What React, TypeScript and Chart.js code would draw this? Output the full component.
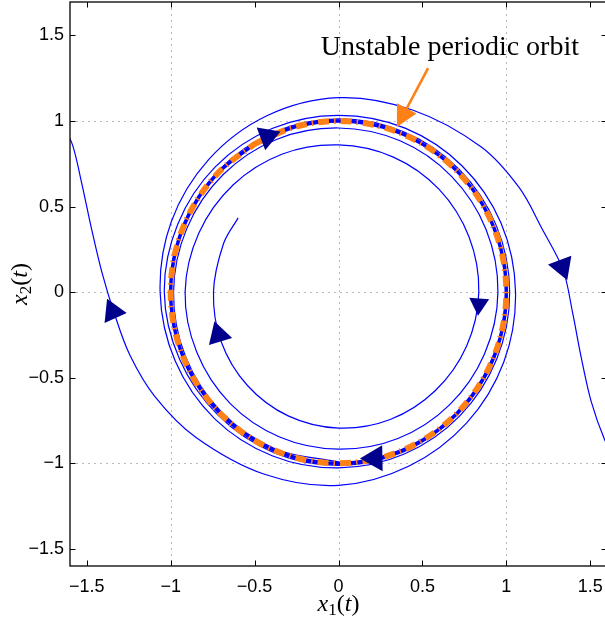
import React, { useEffect, useRef } from 'react';
import { Chart, registerables } from 'chart.js';

Chart.register(...registerables);

// ---- axis / tick data ----
const X_TICKS = [-1.5, -1, -0.5, 0, 0.5, 1, 1.5];
const Y_TICKS = [-1.5, -1, -0.5, 0, 0.5, 1, 1.5];
const GRID_VALUES = [-1, 0, 1];
const X_MIN = -1.6;
const X_MAX = 1.6;
const Y_MIN = -1.6;
const Y_MAX = 1.695;

// ---- unstable periodic orbit ----
const orbitX = [-0.5, -0.259, 0, 0.259, 0.5, 0.707, 0.866, 0.966, 1, 0.966, 0.866, 0.707, 0.5, 0.259, 0, -0.259, -0.5, -0.707, -0.866, -0.966, -1, -0.966, -0.866, -0.707, -0.5];
const orbitY = [0.866, 0.966, 1, 0.966, 0.866, 0.707, 0.5, 0.259, 0, -0.259, -0.5, -0.707, -0.866, -0.966, -1, -0.966, -0.866, -0.707, -0.5, -0.259, 0, 0.259, 0.5, 0.707, 0.866];

// ---- outer trajectory escaping to the right ----
const outerAX = [-1.006, -0.93, -0.713, -0.387, 0, 0.388, 0.718, 0.94, 1.02, 0.943, 0.723, 0.392, 0, -0.396, -0.739, -0.973, -1.063, -0.996, -0.774, -0.427, 0, 0.441, 0.849, 1.077, 1.213, 1.338, 1.395, 1.446, 1.506, 1.586, 1.64];
const outerAY = [0, 0.386, 0.713, 0.933, 1.012, 0.936, 0.718, 0.39, 0, -0.391, -0.723, -0.946, -1.027, -0.956, -0.739, -0.403, 0, 0.413, 0.774, 1.03, 1.136, 1.064, 0.849, 0.61, 0.37, 0.13, -0.12, -0.38, -0.64, -0.862, -0.95];

// ---- outer trajectory escaping to the left ----
const outerBX = [1.006, 0.93, 0.713, 0.387, 0, -0.388, -0.718, -0.947, -1.038, -0.958, -0.733, -0.396, 0, 0.397, 0.737, 0.969, 1.055, 0.985, 0.764, 0.421, 0, -0.441, -0.849, -1.094, -1.242, -1.334, -1.411, -1.474, -1.531, -1.585, -1.64];
const outerBY = [0, -0.386, -0.713, -0.933, -1.012, -0.936, -0.718, -0.392, 0, 0.397, 0.733, 0.956, 1.033, 0.958, 0.737, 0.402, 0, -0.408, -0.764, -1.016, -1.129, -1.064, -0.849, -0.61, -0.37, -0.13, 0.12, 0.38, 0.64, 0.86, 0.97];

// ---- inner trajectory spiralling inwards ----
const innerX = [0, -0.379, -0.699, -0.911, -0.983, -0.903, -0.687, -0.37, 0, 0.367, 0.675, 0.88, 0.95, 0.87, 0.66, 0.354, 0, -0.351, -0.648, -0.845, -0.914, -0.832, -0.627, -0.334, 0, 0.327, 0.6, 0.778, 0.836, 0.763, 0.576, 0.308, 0, -0.3, -0.544, -0.699, -0.745, -0.685, -0.598];
const innerY = [-0.992, -0.915, -0.699, -0.378, 0, 0.374, 0.687, 0.892, 0.959, 0.884, 0.675, 0.365, 0, -0.361, -0.66, -0.855, -0.917, -0.846, -0.648, -0.35, 0, 0.345, 0.627, 0.807, 0.86, 0.789, 0.6, 0.322, 0, -0.316, -0.576, -0.744, -0.794, -0.723, -0.544, -0.29, 0, 0.284, 0.434];

// ---- direction arrows (centre, rotation in degrees) ----
const arrowX = [-0.423, 0.836, 0.217, -0.715, 1.333, -1.345];
const arrowY = [0.91, -0.071, -0.971, -0.249, 0.148, -0.114];
const arrowRot = [69.5, 184, 269, 343, 159.5, 336];
const arrowSize = [14, 11.5, 15, 14, 14.4, 14];

// ---- annotation ----
const ANNOTATION_TEXT = 'Unstable periodic orbit';
const ANNOTATION_POS = [0.664, 1.385];
const ANNOTATION_FROM = [0.534, 1.309];
const ANNOTATION_TO = [0.348, 0.965];

const BLUE = 'rgb(0,0,255)';
const NAVY = 'rgb(0,0,140)';
const ORANGE = 'rgb(255,128,20)';
const GRID_COLOR = 'rgb(185,185,185)';
const SERIF = '"Liberation Serif", "DejaVu Serif", serif';
const SANS = '"Liberation Sans", Arial, Helvetica, sans-serif';

const pts = (xs: number[], ys: number[]) => xs.map((x, i) => ({ x, y: ys[i] }));

const fmt = (v: number) => (v < 0 ? '\u2212' + String(Math.abs(v)) : String(v));

type Part = { t: string; font: string; dy?: number };

function drawParts(ctx: CanvasRenderingContext2D, parts: Part[], cx: number, baseline: number) {
  let total = 0;
  const widths = parts.map((p) => {
    ctx.font = p.font;
    const w = ctx.measureText(p.t).width;
    total += w;
    return w;
  });
  let x = cx - total / 2;
  ctx.textAlign = 'left';
  ctx.textBaseline = 'alphabetic';
  parts.forEach((p, i) => {
    ctx.font = p.font;
    ctx.fillText(p.t, x, baseline + (p.dy || 0));
    x += widths[i];
  });
}

const decorPlugin = {
  id: 'decor',
  beforeDatasetsDraw(chart: any) {
    const { ctx, chartArea: a, scales } = chart;
    const xs = scales.x;
    const ys = scales.y;
    ctx.save();
    ctx.strokeStyle = GRID_COLOR;
    ctx.lineWidth = 1;
    ctx.setLineDash([2, 4]);
    for (const v of GRID_VALUES) {
      const px = Math.round(xs.getPixelForValue(v)) + 0.5;
      ctx.beginPath();
      ctx.moveTo(px, a.top);
      ctx.lineTo(px, a.bottom);
      ctx.stroke();
      const py = Math.round(ys.getPixelForValue(v)) + 0.5;
      ctx.beginPath();
      ctx.moveTo(a.left, py);
      ctx.lineTo(a.right, py);
      ctx.stroke();
    }
    ctx.restore();
  },
  afterDatasetsDraw(chart: any) {
    const { ctx, chartArea: a, scales } = chart;
    const xs = scales.x;
    const ys = scales.y;
    ctx.save();
    // frame
    ctx.strokeStyle = '#000';
    ctx.lineWidth = 1.3;
    ctx.setLineDash([]);
    ctx.strokeRect(a.left, a.top, a.right - a.left, a.bottom - a.top);
    // inward ticks on all four sides
    const TL = 5.5;
    ctx.lineWidth = 1;
    for (const v of X_TICKS) {
      const px = Math.round(xs.getPixelForValue(v)) + 0.5;
      ctx.beginPath();
      ctx.moveTo(px, a.bottom);
      ctx.lineTo(px, a.bottom - TL);
      ctx.moveTo(px, a.top);
      ctx.lineTo(px, a.top + TL);
      ctx.stroke();
    }
    for (const v of Y_TICKS) {
      const py = Math.round(ys.getPixelForValue(v)) + 0.5;
      ctx.beginPath();
      ctx.moveTo(a.left, py);
      ctx.lineTo(a.left + TL, py);
      ctx.moveTo(a.right, py);
      ctx.lineTo(a.right - TL, py);
      ctx.stroke();
    }
    // annotation arrow
    const fx = xs.getPixelForValue(ANNOTATION_FROM[0]);
    const fy = ys.getPixelForValue(ANNOTATION_FROM[1]);
    const tx = xs.getPixelForValue(ANNOTATION_TO[0]);
    const ty = ys.getPixelForValue(ANNOTATION_TO[1]);
    const len = Math.hypot(tx - fx, ty - fy);
    const ux = (tx - fx) / len;
    const uy = (ty - fy) / len;
    const HL = 21;
    const HW = 11;
    ctx.strokeStyle = ORANGE;
    ctx.fillStyle = ORANGE;
    ctx.lineWidth = 2.6;
    ctx.beginPath();
    ctx.moveTo(fx, fy);
    ctx.lineTo(tx - ux * HL * 0.9, ty - uy * HL * 0.9);
    ctx.stroke();
    ctx.beginPath();
    ctx.moveTo(tx, ty);
    ctx.lineTo(tx - ux * HL - uy * HW, ty - uy * HL + ux * HW);
    ctx.lineTo(tx - ux * HL + uy * HW, ty - uy * HL - ux * HW);
    ctx.closePath();
    ctx.fill();
    // annotation text
    ctx.fillStyle = '#000';
    ctx.font = `28px ${SERIF}`;
    ctx.textAlign = 'center';
    ctx.textBaseline = 'alphabetic';
    ctx.fillText(ANNOTATION_TEXT, xs.getPixelForValue(ANNOTATION_POS[0]), ys.getPixelForValue(ANNOTATION_POS[1]));
    ctx.restore();
  },
  afterDraw(chart: any) {
    const { ctx, chartArea: a } = chart;
    ctx.save();
    ctx.fillStyle = '#000';
    const big = `24px ${SERIF}`;
    const bigI = `italic 24px ${SERIF}`;
    const sub = `17px ${SERIF}`;
    drawParts(
      ctx,
      [
        { t: 'x', font: bigI },
        { t: '1', font: sub, dy: 4 },
        { t: '(', font: big },
        { t: 't', font: bigI },
        { t: ')', font: big },
      ],
      (a.left + a.right) / 2,
      610.5
    );
    ctx.translate(27, (a.top + a.bottom) / 2);
    ctx.rotate(-Math.PI / 2);
    drawParts(
      ctx,
      [
        { t: 'x', font: bigI },
        { t: '2', font: sub, dy: 4 },
        { t: '(', font: big },
        { t: 't', font: bigI },
        { t: ')', font: big },
      ],
      0,
      0
    );
    ctx.restore();
  },
};

export default function App() {
  const ref = useRef<HTMLCanvasElement | null>(null);

  useEffect(() => {
    document.documentElement.style.overflow = 'hidden';
    document.body.style.overflow = 'hidden';
    const canvas = ref.current;
    if (!canvas) return;
    const lineDs = (label: string, xs: number[], ys: number[], color: string, width: number, tension: number, order: number, dash: number[] = []) => ({
      label,
      data: pts(xs, ys),
      showLine: true,
      borderColor: color,
      backgroundColor: color,
      borderWidth: width,
      borderDash: dash,
      pointRadius: 0,
      pointHoverRadius: 0,
      tension,
      order,
      borderCapStyle: 'butt',
    });
    const noPad = (s: any) => {
      s.paddingTop = 0;
      s.paddingBottom = 0;
      s.paddingLeft = 0;
      s.paddingRight = 0;
    };
    const chart = new Chart(canvas, {
      type: 'scatter',
      data: {
        datasets: [
          {
            label: 'arrows',
            data: pts(arrowX, arrowY),
            showLine: false,
            pointStyle: 'triangle',
            pointRadius: arrowSize,
            pointHoverRadius: arrowSize,
            pointRotation: arrowRot,
            backgroundColor: NAVY,
            borderColor: NAVY,
            borderWidth: 0,
            order: 0,
          } as any,
          lineDs('orbit', orbitX, orbitY, ORANGE, 6, 0.34, 1, [11, 5, 1.5, 5]) as any,
          lineDs('orbitBlue', orbitX, orbitY, BLUE, 3.5, 0.34, 2) as any,
          lineDs('outerA', outerAX, outerAY, BLUE, 1.2, 0.34, 3) as any,
          lineDs('outerB', outerBX, outerBY, BLUE, 1.2, 0.34, 3) as any,
          lineDs('inner', innerX, innerY, BLUE, 1.2, 0.34, 3) as any,
        ],
      },
      options: {
        animation: false,
        responsive: false,
        events: [],
        layout: { autoPadding: false, padding: { top: 2, right: 5, left: 0, bottom: 0 } },
        plugins: { legend: { display: false }, tooltip: { enabled: false } },
        scales: {
          x: {
            type: 'linear',
            min: X_MIN,
            max: X_MAX,
            grid: { display: false, drawTicks: false },
            border: { display: false },
            afterBuildTicks: (s: any) => {
              s.ticks = X_TICKS.map((value) => ({ value }));
            },
            afterFit: (s: any) => {
              s.height = 57;
              noPad(s);
            },
            ticks: {
              autoSkip: false,
              maxRotation: 0,
              padding: 10,
              color: '#000',
              font: { family: SANS, size: 18 },
              callback: (v: any) => fmt(Number(v)),
            },
          },
          y: {
            type: 'linear',
            min: Y_MIN,
            max: Y_MAX,
            grid: { display: false, drawTicks: false },
            border: { display: false },
            afterBuildTicks: (s: any) => {
              s.ticks = Y_TICKS.map((value) => ({ value }));
            },
            afterFit: (s: any) => {
              s.width = 70;
              noPad(s);
            },
            ticks: {
              autoSkip: false,
              padding: 6,
              color: '#000',
              font: { family: SANS, size: 18 },
              callback: (v: any) => fmt(Number(v)),
            },
          },
        },
      } as any,
      plugins: [decorPlugin],
    });
    return () => chart.destroy();
  }, []);

  return (
    <div style={{ position: 'fixed', left: 0, top: 0, width: 605, height: 623, overflow: 'hidden', background: '#fff' }}>
      <canvas ref={ref} width={612} height={623} style={{ display: 'block', width: 612, height: 623 }} />
    </div>
  );
}
